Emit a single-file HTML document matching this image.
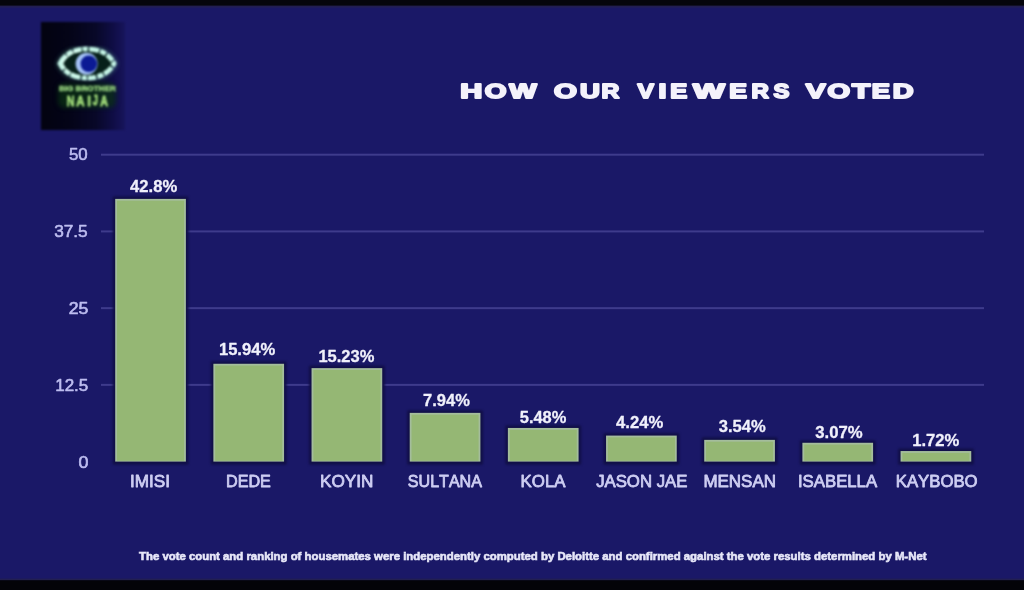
<!DOCTYPE html>
<html><head><meta charset="utf-8"><style>
html,body{margin:0;padding:0;}
body{width:1024px;height:590px;overflow:hidden;background:#1a1867;}
svg{display:block;filter:blur(0.35px);font-family:"Liberation Sans",sans-serif;font-kerning:none;}
</style></head><body>
<svg width="1024" height="590" viewBox="0 0 1024 590">
<rect x="0" y="0" width="1024" height="590" fill="#1a1867"/>
<rect x="0" y="0" width="1024" height="8" fill="#1f1c5c"/>
<rect x="0" y="0" width="1024" height="6.8" fill="#221f50"/>
<rect x="0" y="0" width="1024" height="5.6" fill="#05050c"/>
<rect x="0" y="578.6" width="1024" height="12" fill="#221f52"/>
<rect x="0" y="580.2" width="1024" height="10" fill="#030308"/>

<defs>
<linearGradient id="lg" x1="0" x2="1" y1="0" y2="0"><stop offset="0" stop-color="#030310"/><stop offset="0.35" stop-color="#040418"/><stop offset="0.65" stop-color="#080828"/><stop offset="0.85" stop-color="#0f0d44"/><stop offset="1" stop-color="#17145c"/></linearGradient>
<filter id="glow" color-interpolation-filters="sRGB" x="-20%" y="-20%" width="140%" height="140%"><feGaussianBlur stdDeviation="0.9"/></filter>
<filter id="halo" color-interpolation-filters="sRGB" x="-10%" y="-10%" width="120%" height="120%"><feGaussianBlur stdDeviation="1"/></filter>
<filter id="halo2" color-interpolation-filters="sRGB" x="-10%" y="-10%" width="120%" height="120%"><feGaussianBlur stdDeviation="0.6"/></filter>
<filter id="boxsoft" color-interpolation-filters="sRGB" x="-5%" y="-5%" width="110%" height="110%"><feGaussianBlur stdDeviation="0.8"/></filter>
<filter id="soft" color-interpolation-filters="sRGB" x="-10%" y="-10%" width="120%" height="120%"><feGaussianBlur stdDeviation="2"/></filter>
</defs>
<rect x="41" y="22" width="84" height="108" fill="url(#lg)" filter="url(#boxsoft)"/>
<g filter="url(#glow)">
<path d="M60,63.5 C65,53 76,49 87,49 C98,49 109,53 114,63.5 C109,74 98,78 87,78 C76,78 65,74 60,63.5 Z" fill="none" stroke="#6fd0b0" stroke-width="7" opacity="0.35" filter="url(#soft)"/>
<path d="M60,63.5 C65,53 76,49 87,49 C98,49 109,53 114,63.5 C109,74 98,78 87,78 C76,78 65,74 60,63.5 Z" fill="#06201a" stroke="#c4f4e6" stroke-width="4.8" stroke-dasharray="10 1.3 6 1.6 8 1.1 5 1.5"/>
<path d="M62,63.5 C66,55 74,51 80,50.5" fill="none" stroke="#e0fff4" stroke-width="2.5" opacity="0.7"/>
<path d="M62,63.5 C66,72 74,76 80,77" fill="none" stroke="#d8fcef" stroke-width="2.5" opacity="0.6"/>
<circle cx="86.6" cy="63.7" r="11" fill="#a4c2f6"/>
<circle cx="88.8" cy="63.8" r="8.3" fill="#0b1a94"/>
<rect x="58" y="83" width="58" height="25" rx="6" fill="#0a3212" opacity="0.7" filter="url(#soft)"/>
<text transform="translate(58.92,91.07) scale(1.0480,1)" font-size="7.77" font-weight="bold" fill="#92cc7c" stroke="#92cc7c" stroke-width="0.5" stroke-linejoin="round">BIG BROTHER</text><text transform="translate(66.86,105.60) scale(0.7000,1)" font-size="15.41" font-weight="bold" fill="#a4de7c" stroke="#a4de7c" stroke-width="0.8" stroke-linejoin="round">N</text><text transform="translate(76.21,105.60) scale(0.7453,1)" font-size="15.41" font-weight="bold" fill="#a4de7c" stroke="#a4de7c" stroke-width="0.8" stroke-linejoin="round">A</text><text transform="translate(87.26,105.60) scale(0.8611,1)" font-size="15.41" font-weight="bold" fill="#a4de7c" stroke="#a4de7c" stroke-width="0.8" stroke-linejoin="round">I</text><text transform="translate(92.70,105.45) scale(0.6015,1)" font-size="15.19" font-weight="bold" fill="#a4de7c" stroke="#a4de7c" stroke-width="0.8" stroke-linejoin="round">J</text><text transform="translate(100.31,105.60) scale(0.6914,1)" font-size="15.41" font-weight="bold" fill="#a4de7c" stroke="#a4de7c" stroke-width="0.8" stroke-linejoin="round">A</text>
</g>

<rect x="101" y="153.70" width="883" height="2" fill="#3e3b8c"/>
<rect x="101" y="230.43" width="883" height="2" fill="#3e3b8c"/>
<rect x="101" y="307.15" width="883" height="2" fill="#3e3b8c"/>
<rect x="101" y="383.88" width="883" height="2" fill="#3e3b8c"/>
<text transform="translate(68.93,159.54) scale(1.0140,1)" font-size="16.60" fill="#bdbdf0" stroke="#bdbdf0" stroke-width="0.6" stroke-linejoin="round">50</text>
<text transform="translate(54.15,237.24) scale(1.0387,1)" font-size="16.60" fill="#bdbdf0" stroke="#bdbdf0" stroke-width="0.6" stroke-linejoin="round">37.5</text>
<text transform="translate(68.63,314.04) scale(1.0666,1)" font-size="16.60" fill="#bdbdf0" stroke="#bdbdf0" stroke-width="0.6" stroke-linejoin="round">25</text>
<text transform="translate(55.21,390.94) scale(1.0243,1)" font-size="16.60" fill="#bdbdf0" stroke="#bdbdf0" stroke-width="0.6" stroke-linejoin="round">12.5</text>
<text transform="translate(78.42,468.14) scale(1.0779,1)" font-size="16.60" fill="#bdbdf0" stroke="#bdbdf0" stroke-width="0.6" stroke-linejoin="round">0</text>
<rect x="112.60" y="196.29" width="75.9" height="268.51" rx="1.5" fill="#110f48" filter="url(#halo)"/>
<rect x="115.20" y="198.89" width="70.7" height="262.71" fill="#a4bd9c"/>
<rect x="117.00" y="200.69" width="67.10000000000001" height="260.11" fill="#95b774" filter="url(#halo2)"/>
<text transform="translate(130.10,191.69) scale(0.9886,1)" font-size="16.80" font-weight="bold" fill="#f0f0fb" stroke="#f0f0fb" stroke-width="0.3" stroke-linejoin="round">42.8%</text>
<text transform="translate(130.02,486.94) scale(1.0216,1)" font-size="16.80" fill="#cdcdf2" stroke="#cdcdf2" stroke-width="0.8" stroke-linejoin="round">IMISI</text>
<rect x="210.77" y="361.16" width="75.9" height="103.64" rx="1.5" fill="#110f48" filter="url(#halo)"/>
<rect x="213.37" y="363.76" width="70.7" height="97.84" fill="#a4bd9c"/>
<rect x="215.17" y="365.56" width="67.10000000000001" height="95.24" fill="#95b774" filter="url(#halo2)"/>
<text transform="translate(218.90,355.09) scale(0.9896,1)" font-size="16.80" font-weight="bold" fill="#f0f0fb" stroke="#f0f0fb" stroke-width="0.3" stroke-linejoin="round">15.94%</text>
<text transform="translate(225.96,487.10) scale(0.9631,1)" font-size="16.80" fill="#cdcdf2" stroke="#cdcdf2" stroke-width="0.8" stroke-linejoin="round">DEDE</text>
<rect x="308.94" y="365.52" width="75.9" height="99.28" rx="1.5" fill="#110f48" filter="url(#halo)"/>
<rect x="311.54" y="368.12" width="70.7" height="93.48" fill="#a4bd9c"/>
<rect x="313.34" y="369.92" width="67.10000000000001" height="90.88" fill="#95b774" filter="url(#halo2)"/>
<text transform="translate(318.41,361.76) scale(0.9825,1)" font-size="16.80" font-weight="bold" fill="#f0f0fb" stroke="#f0f0fb" stroke-width="0.3" stroke-linejoin="round">15.23%</text>
<text transform="translate(320.10,486.94) scale(1.0213,1)" font-size="16.80" fill="#cdcdf2" stroke="#cdcdf2" stroke-width="0.8" stroke-linejoin="round">KOYIN</text>
<rect x="407.11" y="410.26" width="75.9" height="54.54" rx="1.5" fill="#110f48" filter="url(#halo)"/>
<rect x="409.71" y="412.86" width="70.7" height="48.74" fill="#a4bd9c"/>
<rect x="411.51" y="414.66" width="67.10000000000001" height="46.14" fill="#95b774" filter="url(#halo2)"/>
<text transform="translate(423.04,405.89) scale(0.9835,1)" font-size="16.80" font-weight="bold" fill="#f0f0fb" stroke="#f0f0fb" stroke-width="0.3" stroke-linejoin="round">7.94%</text>
<text transform="translate(407.85,486.94) scale(0.9562,1)" font-size="16.80" fill="#cdcdf2" stroke="#cdcdf2" stroke-width="0.8" stroke-linejoin="round">SULTANA</text>
<rect x="505.28" y="425.36" width="75.9" height="39.44" rx="1.5" fill="#110f48" filter="url(#halo)"/>
<rect x="507.88" y="427.96" width="70.7" height="33.64" fill="#a4bd9c"/>
<rect x="509.68" y="429.76" width="67.10000000000001" height="31.04" fill="#95b774" filter="url(#halo2)"/>
<text transform="translate(519.74,423.09) scale(0.9792,1)" font-size="16.80" font-weight="bold" fill="#f0f0fb" stroke="#f0f0fb" stroke-width="0.3" stroke-linejoin="round">5.48%</text>
<text transform="translate(520.62,486.94) scale(0.9998,1)" font-size="16.80" fill="#cdcdf2" stroke="#cdcdf2" stroke-width="0.8" stroke-linejoin="round">KOLA</text>
<rect x="603.45" y="432.97" width="75.9" height="31.83" rx="1.5" fill="#110f48" filter="url(#halo)"/>
<rect x="606.05" y="435.57" width="70.7" height="26.03" fill="#a4bd9c"/>
<rect x="607.85" y="437.37" width="67.10000000000001" height="23.43" fill="#95b774" filter="url(#halo2)"/>
<text transform="translate(616.00,428.12) scale(0.9928,1)" font-size="16.80" font-weight="bold" fill="#f0f0fb" stroke="#f0f0fb" stroke-width="0.3" stroke-linejoin="round">4.24%</text>
<text transform="translate(596.14,486.94) scale(0.9988,1)" font-size="16.80" fill="#cdcdf2" stroke="#cdcdf2" stroke-width="0.8" stroke-linejoin="round">JASON JAE</text>
<rect x="701.62" y="437.27" width="75.9" height="27.53" rx="1.5" fill="#110f48" filter="url(#halo)"/>
<rect x="704.22" y="439.87" width="70.7" height="21.73" fill="#a4bd9c"/>
<rect x="706.02" y="441.67" width="67.10000000000001" height="19.13" fill="#95b774" filter="url(#halo2)"/>
<text transform="translate(718.77,432.26) scale(0.9871,1)" font-size="16.80" font-weight="bold" fill="#f0f0fb" stroke="#f0f0fb" stroke-width="0.3" stroke-linejoin="round">3.54%</text>
<text transform="translate(703.41,486.94) scale(1.0110,1)" font-size="16.80" fill="#cdcdf2" stroke="#cdcdf2" stroke-width="0.8" stroke-linejoin="round">MENSAN</text>
<rect x="799.79" y="440.16" width="75.9" height="24.64" rx="1.5" fill="#110f48" filter="url(#halo)"/>
<rect x="802.39" y="442.76" width="70.7" height="18.84" fill="#a4bd9c"/>
<rect x="804.19" y="444.56" width="67.10000000000001" height="16.24" fill="#95b774" filter="url(#halo2)"/>
<text transform="translate(815.27,437.66) scale(0.9956,1)" font-size="16.80" font-weight="bold" fill="#f0f0fb" stroke="#f0f0fb" stroke-width="0.3" stroke-linejoin="round">3.07%</text>
<text transform="translate(797.95,486.94) scale(0.9987,1)" font-size="16.80" fill="#cdcdf2" stroke="#cdcdf2" stroke-width="0.8" stroke-linejoin="round">ISABELLA</text>
<rect x="897.96" y="448.44" width="75.9" height="16.36" rx="1.5" fill="#110f48" filter="url(#halo)"/>
<rect x="900.56" y="451.04" width="70.7" height="10.56" fill="#a4bd9c"/>
<rect x="902.36" y="452.84" width="67.10000000000001" height="7.96" fill="#95b774" filter="url(#halo2)"/>
<text transform="translate(912.20,445.82) scale(0.9906,1)" font-size="16.80" font-weight="bold" fill="#f0f0fb" stroke="#f0f0fb" stroke-width="0.3" stroke-linejoin="round">1.72%</text>
<text transform="translate(895.73,486.94) scale(0.9965,1)" font-size="16.80" fill="#cdcdf2" stroke="#cdcdf2" stroke-width="0.8" stroke-linejoin="round">KAYBOBO</text>
<g font-size="19.6" font-weight="bold" fill="#f4f2fb" stroke="#f4f2fb" stroke-width="1.8" stroke-linejoin="round"><text transform="translate(460.16,98.3) scale(1.561,1)" x="0" y="0">H</text><text transform="translate(484.64,98.3) scale(1.427,1)" x="0" y="0">O</text><text transform="translate(509.30,98.3) scale(1.481,1)" x="0" y="0">W</text><text transform="translate(553.94,98.3) scale(1.505,1)" x="0" y="0">O</text><text transform="translate(579.91,98.3) scale(1.406,1)" x="0" y="0">U</text><text transform="translate(601.48,98.3) scale(1.264,1)" x="0" y="0">R</text><text transform="translate(637.57,98.3) scale(1.260,1)" x="0" y="0">V</text><text transform="translate(658.40,98.3) scale(1.449,1)" x="0" y="0">I</text><text transform="translate(670.17,98.3) scale(1.297,1)" x="0" y="0">E</text><text transform="translate(693.01,98.3) scale(1.718,1)" x="0" y="0">W</text><text transform="translate(729.14,98.3) scale(1.352,1)" x="0" y="0">E</text><text transform="translate(751.49,98.3) scale(1.229,1)" x="0" y="0">R</text><text transform="translate(773.41,98.3) scale(1.218,1)" x="0" y="0">S</text><text transform="translate(805.66,98.3) scale(1.520,1)" x="0" y="0">V</text><text transform="translate(827.54,98.3) scale(1.479,1)" x="0" y="0">O</text><text transform="translate(851.93,98.3) scale(1.522,1)" x="0" y="0">T</text><text transform="translate(871.83,98.3) scale(1.391,1)" x="0" y="0">E</text><text transform="translate(892.80,98.3) scale(1.469,1)" x="0" y="0">D</text></g>
<text x="139" y="560" font-size="11" font-weight="bold" fill="#e6e6f8" stroke="#e6e6f8" stroke-width="0.6" textLength="787.5" lengthAdjust="spacingAndGlyphs">The vote count and ranking of housemates were independently computed by Deloitte and confirmed against the vote results determined by M-Net</text>
</svg>
</body></html>
